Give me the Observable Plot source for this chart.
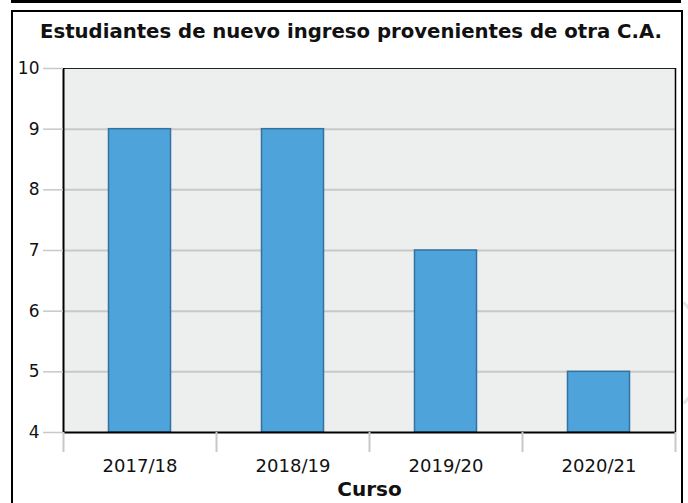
<!DOCTYPE html>
<html>
<head>
<meta charset="utf-8">
<script src="https://cdn.jsdelivr.net/npm/d3@7"></script>
<script src="https://cdn.jsdelivr.net/npm/@observablehq/plot@0.6"></script>
<style>
  html, body { margin: 0; padding: 0; background: #fff; }
  body { width: 688px; height: 503px; position: relative; overflow: hidden; font-family: "DejaVu Sans", sans-serif; }
  #prev { position: absolute; left: 11px; top: 0; width: 670px; height: 0; border-bottom: 3px solid #000; }
  #box { position: absolute; left: 11px; top: 10px; width: 668px; height: 520px; border: 2px solid #000; box-sizing: content-box; }
  #arc { position: absolute; left: 560px; top: 280px; width: 140px; height: 140px; border-radius: 50%; border: 3px solid #e4e4e4; border-left-color: transparent; border-top-color: transparent; border-bottom-color: transparent; }
  #title { position: absolute; left: 21px; width: 660px; top: 22px; line-height: 20px; text-align: center; font-weight: bold; font-size: 19.7px; color: #111; white-space: nowrap; }
  #chart { position: absolute; left: 0; top: 0; }
  #chart svg { background: transparent; overflow: visible; }
</style>
</head>
<body>
<div id="prev"></div>
<div id="arc"></div>
<div id="box"></div>
<div id="title">Estudiantes de nuevo ingreso provenientes de otra C.A.</div>
<div id="chart"></div>
<script>
const cursos = ["2017/18", "2018/19", "2019/20", "2020/21"];
const estudiantes = [9, 9, 7, 5];
const yTicks = [4, 5, 6, 7, 8, 9, 10];
const xLabel = "Curso";

const data = cursos.map((c, i) => ({curso: c, n: estudiantes[i]}));

const W = 688, H = 503;
const mL = 63, mR = 13, mT = 68, mB = 71;
const bw = (W - mL - mR) / cursos.length;
const barW = 62;
const inset = (bw - barW) / 2;

const chart = Plot.plot({
  width: W,
  height: H,
  marginLeft: mL,
  marginRight: mR,
  marginTop: mT,
  marginBottom: mB,
  style: {fontFamily: "DejaVu Sans, sans-serif", fontSize: "17px", color: "#111", background: "transparent"},
  x: {domain: cursos, padding: 0, label: null},
  y: {domain: [4, 10], ticks: yTicks, label: null},
  marks: [
    Plot.frame({fill: "#edefee", stroke: null}),
    Plot.gridY(yTicks.slice(1, -1), {stroke: "#c8c8c8", strokeOpacity: 1, strokeWidth: 2}),
    Plot.barY(data, {x: "curso", y1: 4, y2: "n", fill: "#4fa3db", stroke: "#3272a0", strokeWidth: 1.5, insetLeft: inset, insetRight: inset}),
    Plot.frame({stroke: "#222", strokeWidth: 1}),
    Plot.ruleY([4], {stroke: "#000", strokeWidth: 2}),
    Plot.ruleX([cursos[0]], {dx: -bw / 2, stroke: "#000", strokeWidth: 2}),
    Plot.ruleX([cursos[cursos.length - 1]], {dx: bw / 2, stroke: "#000", strokeWidth: 1.5}),
    Plot.ruleX(cursos, {dx: -bw / 2, y1: 4, y2: 4, insetBottom: -20, stroke: "#c8c8c8", strokeWidth: 2}),
    Plot.ruleX([cursos[cursos.length - 1]], {dx: bw / 2, y1: 4, y2: 4, insetBottom: -20, stroke: "#c8c8c8", strokeWidth: 2}),
    Plot.axisY(yTicks, {tickSize: 20, tickPadding: 4, tickFormat: d3.format("d"), stroke: "#c8c8c8", strokeWidth: 1.5, fill: "#111", fontSize: 17, label: null}),
    Plot.axisX({tickSize: 0, tickPadding: 27, fill: "#111", fontSize: 18, label: null}),
    Plot.text([xLabel], {frameAnchor: "bottom", dy: 63, fontWeight: "bold", fontSize: 20, fill: "#111"})
  ]
});
document.getElementById("chart").appendChild(chart);
</script>
</body>
</html>
